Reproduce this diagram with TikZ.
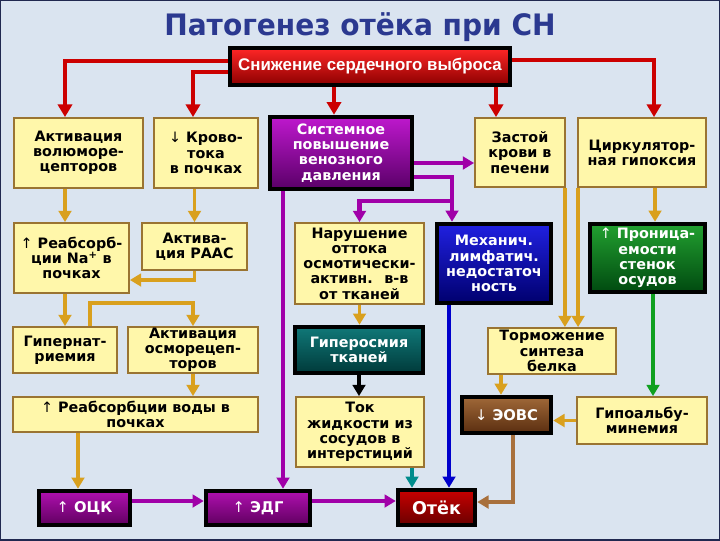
\documentclass[tikz,border=0pt]{standalone}
\usepackage{graphicx}
\usepackage{fontspec}
\setmainfont{DejaVu Sans}
\newfontfamily\libsans{Liberation Sans}
\usetikzlibrary{arrows.meta,calc}
\pgfdeclarelayer{bg}
\pgfsetlayers{bg,main}
\definecolor{bgblue}{HTML}{DAE4F0}
\definecolor{frameblue}{HTML}{202850}
\definecolor{titleblue}{HTML}{2B3990}
\definecolor{yfill}{HTML}{FFF7AA}
\definecolor{ybord}{HTML}{9A7432}
\definecolor{cred}{HTML}{CC0000}
\definecolor{corange}{HTML}{D9A01E}
\definecolor{cpurple}{HTML}{A000A8}
\definecolor{cblue}{HTML}{0000CC}
\definecolor{cteal}{HTML}{008C8C}
\definecolor{cgreen}{HTML}{10A020}
\definecolor{cbrown}{HTML}{A8703C}
\newcommand{\bxfont}{\bfseries\fontsize{10.2}{10.8}\selectfont}
\newcommand{\thinup}{{\mdseries ↑}}
\newcommand{\thindown}{{\mdseries ↓}}
% \pxbox{name}{x1}{y1}{x2}{y2}{style}{text}
\newcommand{\pxbox}[7]{\node[#6, minimum width={(#4-#2)*0.025cm}, minimum height={(#5-#3)*0.025cm}] (#1) at ({(#2+#4)/2},{(#3+#5)/2}) {#7};}
\begin{document}
\begin{tikzpicture}[x=0.025cm,y=-0.025cm,
  ybox/.style={draw=ybord, line width=1.3pt, fill=yfill, inner sep=0pt, align=center, font=\bxfont, text=black},
  dbox/.style={draw=black, line width=3.2pt, inner sep=0pt, align=center, font=\bxfont, text=white},
  arr/.style={line width=2.8pt, -{Triangle[width=9pt,length=8pt]}, line join=miter},
  redarr/.style={arr, line width=3.4pt, draw=cred, -{Triangle[width=10pt,length=9pt]}},
  orarr/.style={arr, draw=corange},
  puarr/.style={arr, line width=3.2pt, draw=cpurple},
  bluearr/.style={arr, draw=cblue},
  tealarr/.style={arr, draw=cteal},
  greenarr/.style={arr, draw=cgreen},
  brownarr/.style={arr, draw=cbrown},
  blackarr/.style={arr, draw=black}
]
\useasboundingbox (0,0) rectangle (720,540);
\begin{pgfonlayer}{bg}
\fill[bgblue] (0,0) rectangle (720,540);
\draw[frameblue, line width=1.2pt] (0,0) rectangle (720,540);
\end{pgfonlayer}

% title
\node[anchor=base, text=titleblue, font=\bfseries\fontsize{21}{24}\selectfont] (title) at (360,35) {\scalebox{0.95}[1]{Патогенез отёка при СН}};

% top box
\pxbox{top}{230}{48}{510}{85}{dbox, top color=red!85!white, bottom color=red!55!black, font=\libsans\bfseries\fontsize{12}{14}\selectfont}{Снижение сердечного выброса}

% row 1
\pxbox{A1}{14}{118}{143}{188}{ybox}{Активация\\волюморе-\\цепторов}
\pxbox{A2}{154}{118}{258}{188}{ybox}{\thindown\ Крово-\\тока\\в почках}
\pxbox{S}{270}{117}{412}{189}{dbox, top color={rgb,255:red,190;green,24;blue,205}, bottom color={rgb,255:red,90;green,0;blue,104}}{Системное\\повышение\\венозного\\давления}
\pxbox{Z}{475}{118}{565}{187}{ybox}{Застой\\крови в\\печени}
\pxbox{C}{578}{118}{706}{187}{ybox}{Циркулятор-\\ная гипоксия}

% row 2
\pxbox{Na}{14}{223}{129}{293}{ybox}{\thinup\ Реабсорб-\\ции Na\textsuperscript{+} в\\почках}
\pxbox{R}{142}{223}{247}{270}{ybox}{Актива-\\ция РААС}
\pxbox{N}{295}{223}{424}{304}{ybox}{Нарушение\\оттока\\осмотически-\\активн.~ в-в\\от тканей}
\pxbox{M}{437}{224}{551}{303}{dbox, top color={rgb,255:red,32;green,32;blue,224}, bottom color={rgb,255:red,0;green,0;blue,110}}{Механич.\\лимфатич.\\недостаточ\\ность}
\pxbox{P}{590}{224}{705}{292}{dbox, top color={rgb,255:red,34;green,160;blue,48}, bottom color={rgb,255:red,0;green,74;blue,16}}{\thinup\ Проница-\\емости\\стенок\\осудов}

% row 3
\pxbox{G}{13}{327}{117}{373}{ybox}{Гипернат-\\риемия}
\pxbox{O}{128}{327}{258}{373}{ybox}{Активация\\осморецеп-\\торов}
\pxbox{H}{295}{327}{423}{373}{dbox, top color={rgb,255:red,16;green,120;blue,120}, bottom color={rgb,255:red,0;green,58;blue,58}}{Гиперосмия\\тканей}
\pxbox{T}{488}{328}{616}{374}{ybox}{Торможение\\синтеза\\белка}

% row 4
\pxbox{W}{13}{397}{258}{432}{ybox}{\thinup\ Реабсорбции воды в\\почках}
\pxbox{J}{296}{397}{424}{467}{ybox}{Ток\\жидкости из\\сосудов в\\интерстиций}
\pxbox{E}{462}{397}{551}{433}{dbox, top color={rgb,255:red,160;green,104;blue,56}, bottom color={rgb,255:red,90;green,46;blue,16}, font=\bfseries\fontsize{10.5}{12}\selectfont}{\thindown\ ЭОВС}
\pxbox{L}{577}{397}{707}{444}{ybox}{Гипоальбу-\\минемия}

% row 5
\pxbox{V}{39}{491}{130}{525}{dbox, top color={rgb,255:red,176;green,16;blue,176}, bottom color={rgb,255:red,96;green,0;blue,96}, font=\bfseries\fontsize{10.5}{12}\selectfont}{\thinup\ ОЦК}
\pxbox{D}{206}{491}{310}{525}{dbox, top color={rgb,255:red,176;green,16;blue,176}, bottom color={rgb,255:red,96;green,0;blue,96}, font=\bfseries\fontsize{10.5}{12}\selectfont}{\thinup\ ЭДГ}
\pxbox{X}{398}{490}{475}{525}{dbox, top color={rgb,255:red,200;green,0;blue,0}, bottom color={rgb,255:red,106;green,0;blue,0}, font=\bfseries\fontsize{12.5}{14}\selectfont}{Отёк}

\begin{pgfonlayer}{bg}
% red
\draw[redarr] ($(top.west)+(0,-5.5)$) -| ($(A1.north)+(-13.5,0)$);
\draw[redarr] ($(top.west)+(0,5.5)$) -| ($(A2.north)+(-13,0)$);
\draw[redarr] ($(top.south)+(-36,0)$) coordinate (t3) -- (t3 |- S.north);
\draw[redarr] ($(top.south)+(126,0)$) coordinate (t4) -- (t4 |- Z.north);
\draw[redarr] ($(top.east)+(0,-6.5)$) -| ($(C.north)+(12,0)$);
% orange left
\draw[orarr] ($(A1.south)+(-13.5,0)$) coordinate (o1) -- (o1 |- Na.north);
\draw[orarr] (R.north |- A2.south) -- (R.north);
\draw[orarr] (R.south) |- ($(Na.east)+(0,22)$);
\draw[orarr] (G.north |- Na.south) -- (G.north);
\draw[orarr] ($(G.north)+(25,0)$) |- ($(O.north)+(0,-23)$) -- (O.north);
\draw[orarr] (O.south) -- (O.south |- W.north);
\draw[orarr] ($(W.south)+(-57.5,0)$) coordinate (o2) -- (o2 |- V.north);
% purple
\draw[puarr] ($(V.east)+(0,-7)$) coordinate (p0) -- (p0 -| D.west);
\draw[puarr] ($(S.south)+(-58,0)$) coordinate (p1) -- (p1 |- D.north);
\draw[puarr] ($(S.east)+(0,10)$) coordinate (p2) -- (p2 -| Z.west);
\draw[puarr] ($(S.east)+(0,24)$) -| ($(M.north)+(-42,0)$);
\draw[puarr] ($(M.north)+(-42,-21)$) -| (N.north);
\draw[puarr] ($(D.east)+(0,-7)$) coordinate (p3) -- (p3 -| X.west);
% middle column
\draw[orarr] (N.south) -- (N.south |- H.north);
\draw[blackarr] (H.south) -- (H.south |- J.north);
\draw[tealarr] ($(J.south)+(52,0)$) coordinate (q1) -- (q1 |- X.north);
\draw[bluearr] ($(M.south)+(-45,0)$) coordinate (q2) -- (q2 |- X.north);
% right
\draw[orarr] ($(Z.south east)+(-1,0)$) coordinate (q3) -- (q3 |- T.north);
\draw[orarr] ($(C.south west)+(1,0)$) coordinate (q4) -- (q4 |- T.north);
\draw[orarr] ($(C.south)+(13,0)$) coordinate (q5) -- (q5 |- P.north);
\draw[greenarr] ($(P.south)+(5.5,0)$) coordinate (q6) -- (q6 |- L.north);
\draw[orarr] ($(T.south)+(-51,0)$) coordinate (q7) -- (q7 |- E.north);
\draw[orarr] (L.west) -- (L.west -| E.east);
\draw[brownarr] ($(E.south)+(6.5,0)$) |- ($(X.east)+(0,-5.5)$);
\end{pgfonlayer}
\end{tikzpicture}
\end{document}
